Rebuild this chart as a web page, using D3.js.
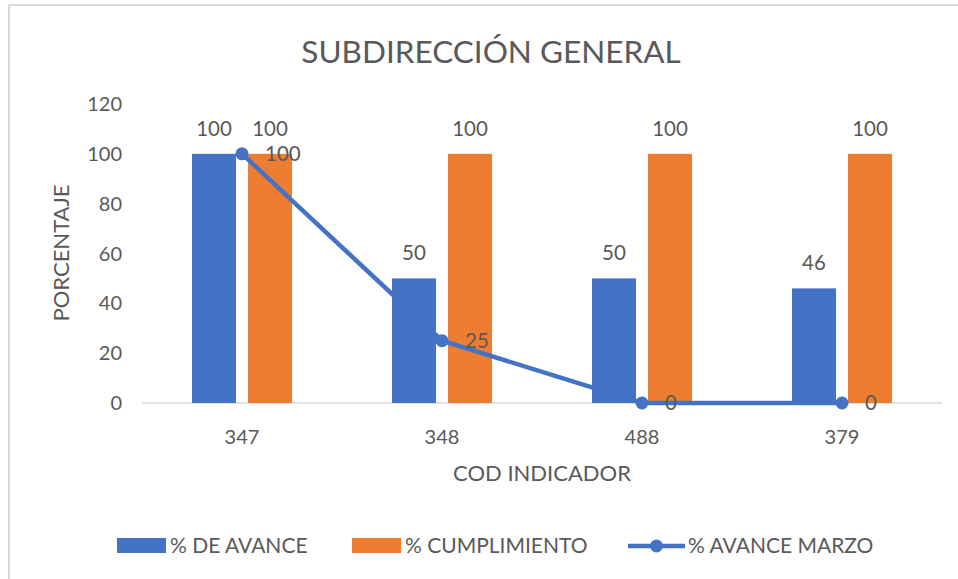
<!DOCTYPE html>
<html>
<head>
<meta charset="utf-8">
<script src="https://cdn.jsdelivr.net/npm/d3@7"></script>
<style>
  body { margin: 0; background: #fff; }
  svg text { font-family: "Lato", "Open Sans", sans-serif; fill: #595959; }
</style>
</head>
<body>
<div id="chart"></div>
<script>
// data
const categories = ["347", "348", "488", "379"];
const avance = [100, 50, 50, 46];
const cumplimiento = [100, 100, 100, 100];
const avanceMarzo = [100, 25, 0, 0];
const yTicks = [0, 20, 40, 60, 80, 100, 120];
const seriesNames = ["% DE AVANCE", "% CUMPLIMIENTO", "% AVANCE MARZO"];

const W = 958, H = 579;
const BLUE = "#4472C4", ORANGE = "#ED7D31";
const margin = {left: 142, right: 16, top: 104, bottom: 176};

const svg = d3.select("#chart").append("svg").attr("width", W).attr("height", H);

// chart border (only top/left visible in the crop)
svg.append("path")
    .attr("d", "M9," + H + "V5H" + W)
    .attr("fill", "none").attr("stroke", "#d9d9d9").attr("stroke-width", 2);

const x = d3.scaleBand().domain(categories).range([margin.left, W - margin.right]);
const y = d3.scaleLinear().domain([0, 120]).range([H - margin.bottom, margin.top]);
const inner = d3.scaleBand().domain([0, 1]).range([50, 150]).paddingInner(0.214);

// title
svg.append("text").attr("x", 491).attr("y", 63).attr("text-anchor", "middle")
    .style("font-size", "31.5px").text("SUBDIRECCIÓN GENERAL");

// y ticks
svg.append("g").selectAll("text").data(yTicks).join("text")
    .attr("x", 122).attr("y", d => y(d)).attr("dy", "0.35em").attr("text-anchor", "end")
    .style("font-size", "20px").text(d => d);

// x axis line
svg.append("line").attr("x1", x.range()[0]).attr("x2", x.range()[1])
    .attr("y1", y(0)).attr("y2", y(0)).attr("stroke", "#d9d9d9").attr("stroke-width", 1.5);

// x tick labels
svg.append("g").selectAll("text").data(categories).join("text")
    .attr("x", d => x(d) + x.bandwidth() / 2).attr("y", 444).attr("text-anchor", "middle")
    .style("font-size", "20px").text(d => d);

// axis titles
svg.append("text").attr("x", 542).attr("y", 481).attr("text-anchor", "middle")
    .style("font-size", "22px").text("COD INDICADOR");
svg.append("text").attr("transform", "translate(69,253) rotate(-90)").attr("text-anchor", "middle")
    .style("font-size", "22px").text("PORCENTAJE");

// bars
const barSeries = [avance, cumplimiento];
const barColors = [BLUE, ORANGE];
barSeries.forEach((vals, s) => {
    const g = svg.append("g");
    g.selectAll("rect").data(vals).join("rect")
        .attr("x", (d, i) => x(categories[i]) + inner(s))
        .attr("y", d => y(d))
        .attr("width", inner.bandwidth())
        .attr("height", d => y(0) - y(d))
        .attr("fill", barColors[s]);
    g.selectAll("text").data(vals).join("text")
        .attr("x", (d, i) => x(categories[i]) + inner(s) + inner.bandwidth() / 2)
        .attr("y", d => y(d) - 18)
        .attr("text-anchor", "middle").style("font-size", "20.5px").text(d => d);
});

// line
const cx = (d, i) => x(categories[i]) + x.bandwidth() / 2;
const line = d3.line().x(cx).y(d => y(d));
svg.append("path").datum(avanceMarzo).attr("d", line)
    .attr("fill", "none").attr("stroke", BLUE).attr("stroke-width", 4.5);
svg.append("g").selectAll("circle").data(avanceMarzo).join("circle")
    .attr("cx", cx).attr("cy", d => y(d)).attr("r", 6.5).attr("fill", BLUE);
svg.append("g").selectAll("text").data(avanceMarzo).join("text")
    .attr("x", (d, i) => cx(d, i) + 23).attr("y", d => y(d)).attr("dy", "0.35em")
    .style("font-size", "20.5px").text(d => d);

// legend
const leg = svg.append("g");
leg.append("rect").attr("x", 117).attr("y", 538).attr("width", 49).attr("height", 15).attr("fill", BLUE);
leg.append("text").attr("x", 170).attr("y", 546).attr("dy", "0.35em").style("font-size", "21px").text(seriesNames[0]);
leg.append("rect").attr("x", 352).attr("y", 538).attr("width", 49).attr("height", 15).attr("fill", ORANGE);
leg.append("text").attr("x", 405).attr("y", 546).attr("dy", "0.35em").style("font-size", "21px").text(seriesNames[1]);
leg.append("line").attr("x1", 628).attr("x2", 685).attr("y1", 546).attr("y2", 546)
    .attr("stroke", BLUE).attr("stroke-width", 4.5);
leg.append("circle").attr("cx", 656.5).attr("cy", 546).attr("r", 6.5).attr("fill", BLUE);
leg.append("text").attr("x", 688).attr("y", 546).attr("dy", "0.35em").style("font-size", "21px").text(seriesNames[2]);
</script>
</body>
</html>
